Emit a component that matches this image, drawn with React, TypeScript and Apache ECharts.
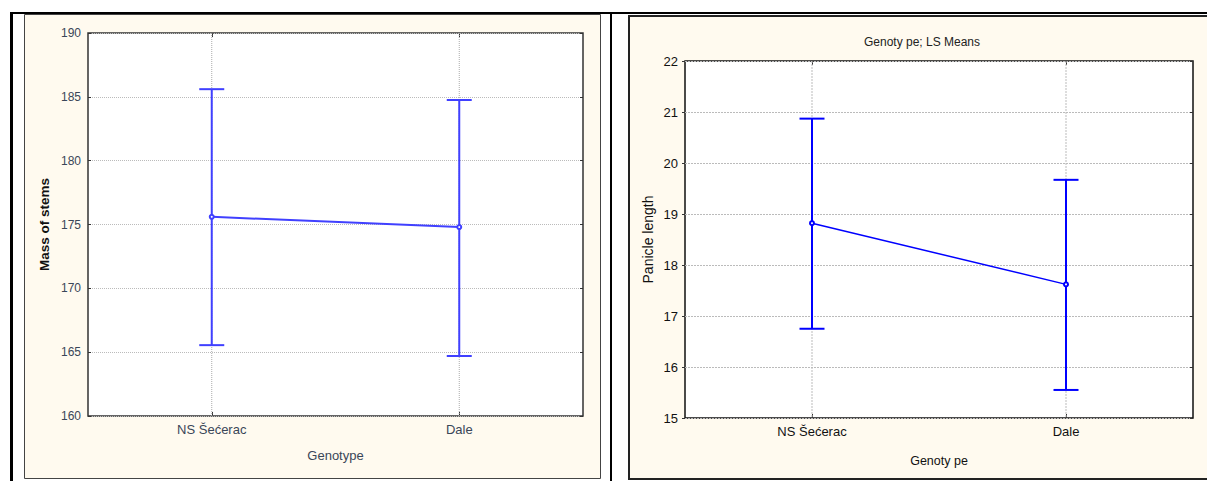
import React, { useEffect, useRef } from "react";
import * as echarts from "echarts";

const genotypes = ["NS Šećerac", "Dale"];

// Panel 1: Mass of stems
const stemMeans = [175.6, 174.8];
const stemLower = [165.55, 164.7];
const stemUpper = [185.6, 184.75];
const stemAxis = { min: 160, max: 190, interval: 5 };

// Panel 2: Panicle length
const panicleMeans = [18.82, 17.62];
const panicleLower = [16.75, 15.55];
const panicleUpper = [20.87, 19.67];
const panicleAxis = { min: 15, max: 22, interval: 1 };

const FONT = "'Liberation Sans', Arial, sans-serif";
const CREAM = "#fffaef";

function errorBars(xIdx: number, yIdx: number, means: number[], lo: number[], hi: number[], color: string, width: number) {
  return {
    type: "custom",
    xAxisIndex: xIdx,
    yAxisIndex: yIdx,
    z: 3,
    silent: true,
    data: means.map((m, i) => [i, m, lo[i], hi[i]]),
    encode: { x: 0, y: [1, 2, 3] },
    renderItem: (params: any, api: any) => {
      const i = api.value(0);
      const top = api.coord([i, api.value(3)]);
      const bot = api.coord([i, api.value(2)]);
      const hw = 12.5;
      const style = { stroke: color, lineWidth: width };
      return {
        type: "group",
        children: [
          { type: "line", shape: { x1: top[0], y1: top[1], x2: bot[0], y2: bot[1] }, style },
          { type: "line", shape: { x1: top[0] - hw, y1: top[1], x2: top[0] + hw, y2: top[1] }, style },
          { type: "line", shape: { x1: bot[0] - hw, y1: bot[1], x2: bot[0] + hw, y2: bot[1] }, style },
        ],
      };
    },
  };
}

function vGrid(xIdx: number, yIdx: number, ymin: number, ymax: number, color: string, dash: any) {
  return {
    type: "custom",
    xAxisIndex: xIdx,
    yAxisIndex: yIdx,
    z: 1,
    silent: true,
    data: genotypes.map((_, i) => [i, ymin, ymax]),
    encode: { x: 0, y: [1, 2] },
    renderItem: (params: any, api: any) => {
      const i = api.value(0);
      const a = api.coord([i, api.value(2)]);
      const b = api.coord([i, api.value(1)]);
      return {
        type: "line",
        shape: { x1: a[0], y1: a[1], x2: b[0], y2: b[1] },
        style: { stroke: color, lineWidth: 1, lineDash: dash },
      };
    },
  };
}

export default function App() {
  const ref = useRef<HTMLDivElement>(null);
  useEffect(() => {
    if (!ref.current) return;
    const chart = echarts.init(ref.current, null, { renderer: "svg" });

    const catAxis = (grid: number, pos: string, labels: boolean, name: string, nameGap: number, fs: number, nameFs: number, color: string) => ({
      type: "category",
      gridIndex: grid,
      position: pos,
      data: genotypes,
      boundaryGap: true,
      axisLine: { show: false },
      axisTick: { show: true, inside: true, alignWithLabel: true, length: 4, lineStyle: { color: "#333" } },
      axisLabel: { show: labels, margin: 7, color, fontSize: fs, fontFamily: FONT },
      splitLine: { show: false },
      name: labels ? name : "",
      nameLocation: "middle",
      nameGap,
      nameTextStyle: { color, fontSize: nameFs, fontFamily: FONT },
    });

    const valAxis = (grid: number, pos: string, labels: boolean, ax: any, name: string, nameGap: number, fs: number, nameFs: number, tickInside: boolean, split: any, bold: boolean, color: string) => ({
      type: "value",
      gridIndex: grid,
      position: pos,
      min: ax.min,
      max: ax.max,
      interval: ax.interval,
      axisLine: { show: false },
      axisTick: { show: true, inside: tickInside, length: 3, lineStyle: { color: "#333" } },
      axisLabel: { show: labels, margin: 7, color, fontSize: fs, fontFamily: FONT },
      splitLine: split,
      name: labels ? name : "",
      nameLocation: "middle",
      nameGap,
      nameRotate: 90,
      nameTextStyle: { color: "#111", fontSize: nameFs, fontFamily: FONT, fontWeight: bold ? "bold" : "normal" },
    });

    chart.setOption({
      animation: false,
      backgroundColor: "#ffffff",
      title: {
        text: "Genoty pe; LS Means",
        left: 917,
        top: 31,
        textAlign: "center",
        textStyle: { fontSize: 12, fontWeight: "normal", color: "#222", fontFamily: FONT },
      },
      graphic: [
        { type: "rect", z: -10, shape: { x: 24.5, y: 14.5, width: 576, height: 464 }, style: { fill: CREAM, stroke: "#444", lineWidth: 1 } },
        { type: "rect", z: -10, shape: { x: 629, y: 16, width: 600, height: 463 }, style: { fill: CREAM, stroke: "#222", lineWidth: 2 } },
        { type: "rect", z: -9, shape: { x: 10, y: 12, width: 1197, height: 2 }, style: { fill: "#000" } },
        { type: "rect", z: -9, shape: { x: 10, y: 12, width: 3, height: 469 }, style: { fill: "#000" } },
        { type: "rect", z: -9, shape: { x: 610, y: 12, width: 2, height: 469 }, style: { fill: "#000" } },
      ],
      grid: [
        { left: 88, top: 33, width: 495, height: 383, show: true, backgroundColor: "#ffffff", borderColor: "#333", borderWidth: 1.5 },
        { left: 685, top: 61, width: 508, height: 357, show: true, backgroundColor: "#ffffff", borderColor: "#111", borderWidth: 1.5 },
      ],
      xAxis: [
        catAxis(0, "bottom", true, "Genotype", 33, 13, 13, "#3a4658"),
        catAxis(0, "top", false, "", 0, 13, 13, "#3a4658"),
        catAxis(1, "bottom", true, "Genoty pe", 36, 13, 12.5, "#111"),
        catAxis(1, "top", false, "", 0, 13, 12.5, "#111"),
      ],
      yAxis: [
        valAxis(0, "left", true, stemAxis, "Mass of stems", 37, 12, 13.5, true, { show: true, lineStyle: { color: "#bbb", type: "dotted", width: 1 } }, true, "#3a4658"),
        valAxis(0, "right", false, stemAxis, "", 0, 12, 13, true, { show: false }, false, "#3a4658"),
        valAxis(1, "left", true, panicleAxis, "Panicle length", 30, 13, 14, false, { show: true, lineStyle: { color: "#bbb", type: [2, 1], width: 1 } }, false, "#111"),
        valAxis(1, "right", false, panicleAxis, "", 0, 13, 14, true, { show: false }, false, "#111"),
      ],
      series: [
        vGrid(0, 0, stemAxis.min, stemAxis.max, "#aaa", [1, 1]),
        vGrid(2, 2, panicleAxis.min, panicleAxis.max, "#bbb", [2, 1]),
        errorBars(0, 0, stemMeans, stemLower, stemUpper, "#4040ff", 2),
        errorBars(2, 2, panicleMeans, panicleLower, panicleUpper, "#0000ff", 2),
        {
          type: "line",
          xAxisIndex: 0,
          yAxisIndex: 0,
          z: 4,
          data: stemMeans,
          symbol: "emptyCircle",
          symbolSize: 4,
          itemStyle: { color: "#4040ff", borderWidth: 1 },
          lineStyle: { color: "#4040ff", width: 2 },
        },
        {
          type: "line",
          xAxisIndex: 2,
          yAxisIndex: 2,
          z: 4,
          data: panicleMeans,
          symbol: "emptyCircle",
          symbolSize: 4,
          itemStyle: { color: "#0000ff", borderWidth: 1 },
          lineStyle: { color: "#0000ff", width: 1.5 },
        },
      ],
    });
    return () => chart.dispose();
  }, []);
  return <div ref={ref} style={{ position: "fixed", left: 0, top: 0, width: 1207, height: 481 }} />;
}
